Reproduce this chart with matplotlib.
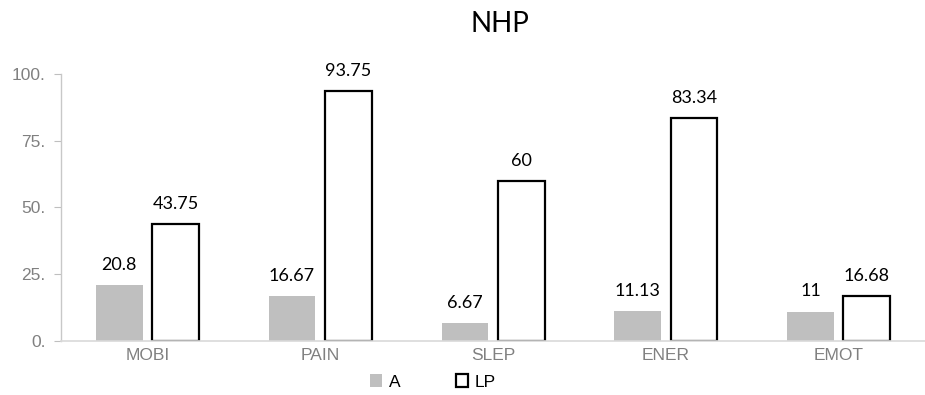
import matplotlib
matplotlib.use("Agg")
import matplotlib.pyplot as plt
import numpy as np

categories = ["MOBI", "PAIN", "SLEP", "ENER", "EMOT"]
series_a = [20.8, 16.67, 6.67, 11.13, 11]
series_lp = [43.75, 93.75, 60, 83.34, 16.68]
a_labels = ["20.8", "16.67", "6.67", "11.13", "11"]
lp_labels = ["43.75", "93.75", "60", "83.34", "16.68"]
y_ticks = [0, 25, 50, 75, 100]
y_tick_labels = ["0.", "25.", "50.", "75.", "100."]

fig = plt.figure(figsize=(9.25, 3.95), dpi=100)
ax = fig.add_axes([0.066, 0.137, 0.934, 0.676])

x = np.arange(len(categories))
width = 0.27
offset = 0.163

ax.bar(x - offset, series_a, width, color="#bfbfbf", label="A", zorder=2)
ax.bar(x + offset, series_lp, width, facecolor="white", edgecolor="black",
       linewidth=1.6, label="LP", zorder=2)

label_font = dict(family=["Lato", "DejaVu Sans"], size=13, color="black")
for xi, v, t in zip(x, series_a, a_labels):
    ax.text(xi - offset, v + 4.5, t, ha="center", va="bottom", **label_font)
for xi, v, t in zip(x, series_lp, lp_labels):
    ax.text(xi + offset, v + 4.5, t, ha="center", va="bottom", **label_font)

ax.set_xlim(-0.5, len(categories) - 0.5)
ax.set_ylim(0, 100)
ax.set_yticks(y_ticks)
ax.set_yticklabels(y_tick_labels)
ax.set_xticks(x)
ax.set_xticklabels(categories)

for lbl in ax.get_yticklabels() + ax.get_xticklabels():
    lbl.set_family("Liberation Sans")
    lbl.set_fontsize(12.5)
    lbl.set_color("#808080")

ax.tick_params(axis="y", length=5, color="#bfbfbf", pad=6)
ax.tick_params(axis="x", length=0, pad=5)

for side in ["top", "right"]:
    ax.spines[side].set_visible(False)
ax.spines["left"].set_color("#c8c8c8")
ax.spines["bottom"].set_color("#d9d9d9")
ax.spines["left"].set_linewidth(1.0)
ax.spines["bottom"].set_linewidth(1.2)
ax.spines["bottom"].set_zorder(3)

fig.text(0.54, 0.94, "NHP", ha="center", va="center",
         family=["Lato", "DejaVu Sans"], fontsize=20, color="black")

leg = fig.legend(loc="center", bbox_to_anchor=(0.468, 0.033), ncol=2,
                 frameon=False, handlelength=0.7, handleheight=0.7,
                 columnspacing=3.2, handletextpad=0.4,
                 prop={"family": "Liberation Sans", "size": 12.5})
for h in leg.legend_handles:
    if h.get_label() == "LP":
        h.set_linewidth(2.2)

fig.savefig("out.png", dpi=100)
